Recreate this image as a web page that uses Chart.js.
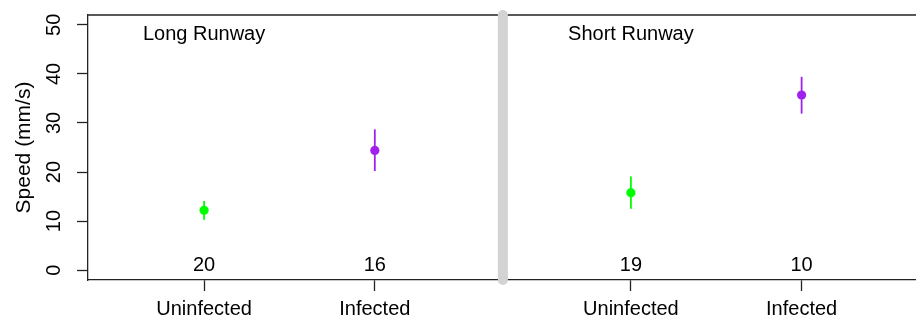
<!DOCTYPE html>
<html>
<head>
<meta charset="utf-8">
<script src="https://cdn.jsdelivr.net/npm/chart.js@4/dist/chart.umd.min.js"></script>
<style>
  html, body { margin: 0; padding: 0; background: #fff; }
  canvas { display: block; }
</style>
</head>
<body>
<canvas id="chart" width="916" height="320"></canvas>
<script>
// Groups: two runway lengths, each with uninfected and infected animals
const runways = ['Long Runway', 'Short Runway'];
const infectionStatus = ['Uninfected', 'Infected'];
// Mean speed (mm/s) with lower/upper interval bounds, in runway-major order
const meanSpeed  = [12.2, 24.4, 15.8, 35.7];
const lowerSpeed = [10.3, 20.2, 12.5, 31.9];
const upperSpeed = [14.1, 28.7, 19.1, 39.4];
// Number of animals per group
const sampleSize = [20, 16, 19, 10];
// Y axis tick values
const speedTicks = [0, 10, 20, 30, 40, 50];

const statusColors = ['#00FF00', '#A020F0'];
const FONT = "'Liberation Sans', Arial, Helvetica, sans-serif";

// Place groups on a numeric x axis: statuses one unit apart, runways separated by a wider gap
const PANEL_STEP = 2.5;
const groupX = [];
const groupLabel = [];
runways.forEach((r, ri) => {
  infectionStatus.forEach((s, si) => {
    groupX.push(1 + ri * PANEL_STEP + si);
    groupLabel.push(s);
  });
});
const dividerX = (groupX[1] + groupX[2]) / 2;

// One dataset per infection status, one point per runway
const datasets = infectionStatus.map((status, si) => ({
  label: status,
  data: runways.map((r, ri) => {
    const i = ri * infectionStatus.length + si;
    return { x: groupX[i], y: meanSpeed[i], lo: lowerSpeed[i], hi: upperSpeed[i] };
  }),
  backgroundColor: statusColors[si],
  borderColor: statusColors[si],
  pointRadius: 4.6,
  pointBorderWidth: 0,
  showLine: false
}));

// Vertical interval bars behind each mean point
const errorBars = {
  id: 'errorBars',
  beforeDatasetsDraw(chart) {
    const { ctx, scales: { x, y } } = chart;
    ctx.save();
    chart.data.datasets.forEach(ds => {
      ctx.strokeStyle = ds.borderColor;
      ctx.lineWidth = 1.8;
      ds.data.forEach(p => {
        const px = x.getPixelForValue(p.x);
        ctx.beginPath();
        ctx.moveTo(px, y.getPixelForValue(p.lo));
        ctx.lineTo(px, y.getPixelForValue(p.hi));
        ctx.stroke();
      });
    });
    ctx.restore();
  }
};

// Top frame line, panel divider, panel titles and group sizes
const annotations = {
  id: 'annotations',
  afterDraw(chart) {
    const { ctx, chartArea: a, scales: { x, y } } = chart;
    ctx.save();
    ctx.strokeStyle = '#222';
    ctx.lineWidth = 1.3;
    ctx.beginPath();
    ctx.moveTo(a.left, a.top);
    ctx.lineTo(a.right, a.top);
    ctx.stroke();

    const dx = x.getPixelForValue(dividerX);
    ctx.strokeStyle = '#D3D3D3';
    ctx.lineWidth = 10;
    ctx.lineCap = 'round';
    ctx.beginPath();
    ctx.moveTo(dx, a.top);
    ctx.lineTo(dx, a.bottom);
    ctx.stroke();

    ctx.fillStyle = '#000';
    ctx.font = '20px ' + FONT;
    ctx.textAlign = 'center';
    ctx.textBaseline = 'middle';
    runways.forEach((r, ri) => {
      const first = ri * infectionStatus.length;
      ctx.fillText(r, x.getPixelForValue(groupX[first]), y.getPixelForValue(48));
    });
    sampleSize.forEach((n, i) => {
      ctx.fillText(String(n), x.getPixelForValue(groupX[i]), y.getPixelForValue(1));
    });
    ctx.restore();
  }
};

// Keep the plot frame fixed: no extra room reserved for overhanging tick labels
const noLabelPadding = s => {
  s.paddingTop = 0; s.paddingBottom = 0; s.paddingLeft = 0; s.paddingRight = 0;
};

new Chart(document.getElementById('chart'), {
  type: 'scatter',
  data: { datasets },
  options: {
    responsive: false,
    animation: false,
    layout: { autoPadding: false, padding: { top: 15, left: 0, right: 0, bottom: 0 } },
    plugins: { legend: { display: false }, tooltip: { enabled: false } },
    scales: {
      x: {
        type: 'linear',
        min: 0.32,
        max: 5.17,
        afterBuildTicks: s => { s.ticks = groupX.map(v => ({ value: v })); },
        afterFit: s => { s.height = 40; noLabelPadding(s); },
        grid: { drawOnChartArea: false, drawTicks: true, tickLength: 11, tickWidth: 1.3, tickColor: '#222' },
        border: { display: true, color: '#222', width: 1.3 },
        ticks: {
          autoSkip: false,
          maxRotation: 0,
          padding: 6,
          color: '#000',
          font: { family: FONT, size: 20 },
          callback: v => groupLabel[groupX.indexOf(v)] ?? ''
        }
      },
      y: {
        type: 'linear',
        min: -2,
        max: 52,
        afterBuildTicks: s => { s.ticks = speedTicks.map(v => ({ value: v })); },
        afterFit: s => { s.width = 88; noLabelPadding(s); },
        grid: { drawOnChartArea: false, drawTicks: true, tickLength: 11, tickWidth: 1.3, tickColor: '#222' },
        border: { display: true, color: '#222', width: 1.3 },
        ticks: {
          minRotation: 90,
          maxRotation: 90,
          crossAlign: 'center',
          padding: 11,
          color: '#000',
          font: { family: FONT, size: 20 }
        },
        title: {
          display: true,
          text: 'Speed (mm/s)',
          color: '#000',
          font: { family: FONT, size: 21 },
          padding: { top: 12, bottom: 0 }
        }
      }
    }
  },
  plugins: [errorBars, annotations]
});
</script>
</body>
</html>
